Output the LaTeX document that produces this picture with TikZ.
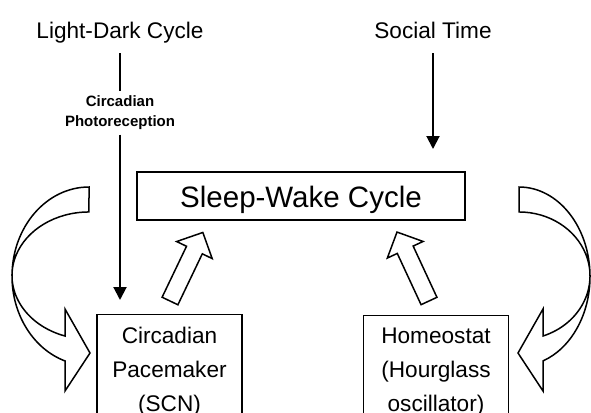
\documentclass[tikz,border=0pt]{standalone}
\usepackage{fontspec}
\setmainfont{Liberation Sans}
\usetikzlibrary{arrows.meta,calc}

\begin{document}
\begin{tikzpicture}[x=1pt,y=-1pt,
    source/.style={inner sep=0pt,font=\fontsize{22.6}{27}\selectfont,text depth=5pt},
    box/.style={draw,line width=1.3pt,anchor=north,minimum width=145pt,align=center,inner ysep=12pt,font=\fontsize{22.6}{34}\selectfont},
    hollow/.style={draw,line width=1.5pt,fill=white,line join=miter},
    feed/.style={line width=2pt,-{Triangle[width=13pt,length=13pt]}}]
    \useasboundingbox (0,0) rectangle (591,412);
    \clip (0,0) rectangle (591,412);
    \node (ld)[source,anchor=base] at (120,38) {Light-Dark Cycle};
    \node (st)[source,anchor=base] at (433,38) {Social Time};
    \node (photo)[align=center,inner xsep=0pt,inner ysep=4.4pt,font=\fontsize{15}{20}\selectfont\bfseries] at (120,113) {Circadian\\Photoreception};
    \node (sw)[draw,line width=2pt,minimum width=328pt,minimum height=48pt,inner sep=0pt,text height=22pt,text depth=0pt,font=\fontsize{29.5}{35}\selectfont] at (301,196) {Sleep-Wake Cycle};
    \node (pace)[box] at (169.5,314) {Circadian\\Pacemaker\\(SCN)};
    \node (homeo)[box] at (436,315) {Homeostat\\(Hourglass\\oscillator)};
    \draw[line width=2pt,shorten <=10pt] (ld.south) -- (photo.north);
    \draw[feed,shorten >=14pt] (photo.south) -- (photo.south |- pace.north);
    \draw[feed,shorten <=10pt,shorten >=22pt] (st.south) -- (st.south |- sw.north);
    \begin{scope}[shift={(170,301)},rotate=64.4]
        \draw[hollow] (0,-8.75) -- (56.5,-8.75) -- (56.5,-19.7) -- (76,0) -- (56.5,19.7) -- (56.5,8.75) -- (0,8.75) -- cycle;
    \end{scope}
    \begin{scope}[shift={(429,301)},rotate=114.9]
        \draw[hollow] (0,-8.75) -- (56.5,-8.75) -- (56.5,-19.7) -- (76,0) -- (56.5,19.7) -- (56.5,8.75) -- (0,8.75) -- cycle;
    \end{scope}
    \draw[hollow] (89,187) arc[start angle=90,end angle=251.84,x radius=77pt,y radius=89.2pt]
        -- (65,391) -- (90,353) -- (65,309) -- (65,336)
        arc[start angle=251.84,end angle=90,x radius=77pt,y radius=63.6pt] -- cycle;
    \draw[hollow] (519,187) arc[start angle=90,end angle=-70.24,x radius=71pt,y radius=89.6pt]
        -- (543,391) -- (518,353) -- (543,309) -- (543,336)
        arc[start angle=-70.24,end angle=90,x radius=71pt,y radius=63.9pt] -- cycle;
\end{tikzpicture}
\end{document}
